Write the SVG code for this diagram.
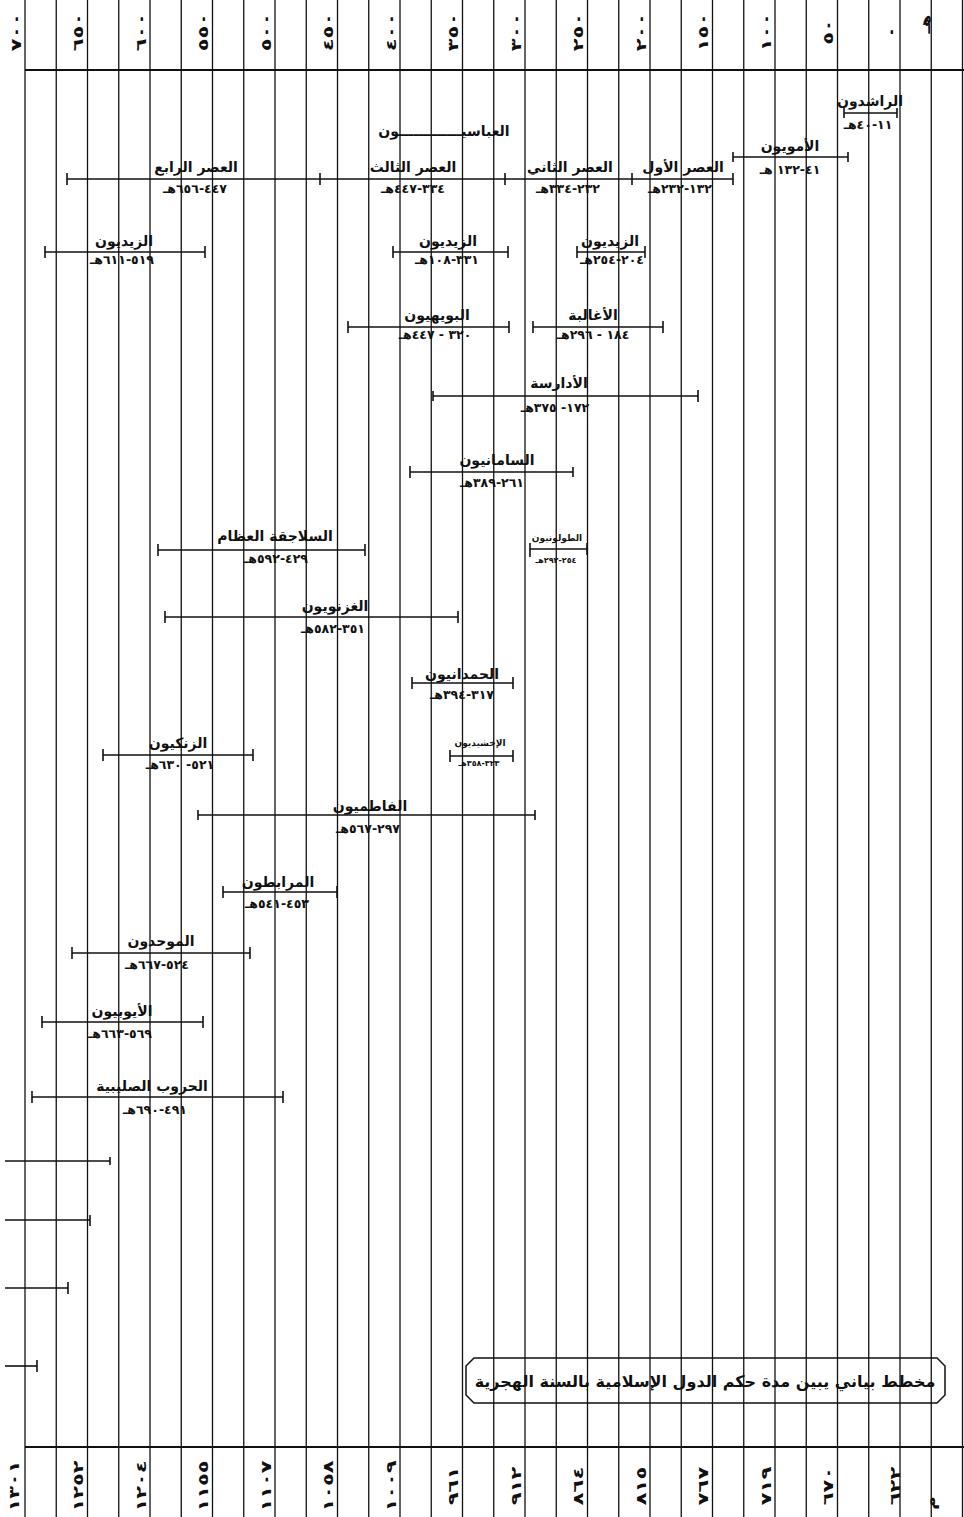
<svg xmlns="http://www.w3.org/2000/svg" width="964" height="1517" viewBox="0 0 964 1517">
<style>
.bg{fill:#fff}
.grid line{stroke:#111;stroke-width:1.3}
.axis{stroke:#111;stroke-width:2}
.bar line{stroke:#111;stroke-width:1.6;fill:none}
text{font-family:"DejaVu Sans",sans-serif;font-weight:bold;fill:#111;text-anchor:middle;direction:rtl}
.nm{font-size:14px}
.dt{font-size:12.5px}
.snm{font-size:9px}
.sdt{font-size:8px}
.ax{font-size:14px;letter-spacing:1.5px;direction:ltr}
.ttl{font-size:16px}
.box{fill:none;stroke:#111;stroke-width:1.5}
</style>
<rect class="bg" x="0" y="0" width="964" height="1517"/>
<g id="grid" class="grid">
<line x1="25" y1="0" x2="25" y2="1517"/><line x1="56.25" y1="0" x2="56.25" y2="1517"/><line x1="87.5" y1="0" x2="87.5" y2="1517"/><line x1="118.75" y1="0" x2="118.75" y2="1517"/><line x1="150" y1="0" x2="150" y2="1517"/><line x1="181.25" y1="0" x2="181.25" y2="1517"/><line x1="212.5" y1="0" x2="212.5" y2="1517"/><line x1="243.75" y1="0" x2="243.75" y2="1517"/><line x1="275" y1="0" x2="275" y2="1517"/><line x1="306.25" y1="0" x2="306.25" y2="1517"/><line x1="337.5" y1="0" x2="337.5" y2="1517"/><line x1="368.75" y1="0" x2="368.75" y2="1517"/><line x1="400" y1="0" x2="400" y2="1517"/><line x1="431.25" y1="0" x2="431.25" y2="1517"/><line x1="462.5" y1="0" x2="462.5" y2="1517"/><line x1="493.75" y1="0" x2="493.75" y2="1517"/><line x1="525" y1="0" x2="525" y2="1517"/><line x1="556.25" y1="0" x2="556.25" y2="1517"/><line x1="587.5" y1="0" x2="587.5" y2="1517"/><line x1="618.75" y1="0" x2="618.75" y2="1517"/><line x1="650" y1="0" x2="650" y2="1517"/><line x1="681.25" y1="0" x2="681.25" y2="1517"/><line x1="712.5" y1="0" x2="712.5" y2="1517"/><line x1="743.75" y1="0" x2="743.75" y2="1517"/><line x1="775" y1="0" x2="775" y2="1517"/><line x1="806.25" y1="0" x2="806.25" y2="1517"/><line x1="837.5" y1="0" x2="837.5" y2="1517"/><line x1="868.75" y1="0" x2="868.75" y2="1517"/><line x1="900" y1="0" x2="900" y2="1517"/><line x1="931.25" y1="0" x2="931.25" y2="1517"/><line x1="962.5" y1="0" x2="962.5" y2="1517"/>
</g>
<g id="axis-top">
<line class="axis" x1="25" y1="70" x2="964" y2="70"/>
<text class="ax" transform="translate(21,32) rotate(-90) scale(1.5,1)">٧٠٠</text>
<text class="ax" transform="translate(83,32) rotate(-90) scale(1.5,1)">٦٥٠</text>
<text class="ax" transform="translate(146,32) rotate(-90) scale(1.5,1)">٦٠٠</text>
<text class="ax" transform="translate(208,32) rotate(-90) scale(1.5,1)">٥٥٠</text>
<text class="ax" transform="translate(271,32) rotate(-90) scale(1.5,1)">٥٠٠</text>
<text class="ax" transform="translate(333,32) rotate(-90) scale(1.5,1)">٤٥٠</text>
<text class="ax" transform="translate(396,32) rotate(-90) scale(1.5,1)">٤٠٠</text>
<text class="ax" transform="translate(458,32) rotate(-90) scale(1.5,1)">٣٥٠</text>
<text class="ax" transform="translate(521,32) rotate(-90) scale(1.5,1)">٣٠٠</text>
<text class="ax" transform="translate(583,32) rotate(-90) scale(1.5,1)">٢٥٠</text>
<text class="ax" transform="translate(646,32) rotate(-90) scale(1.5,1)">٢٠٠</text>
<text class="ax" transform="translate(708,32) rotate(-90) scale(1.5,1)">١٥٠</text>
<text class="ax" transform="translate(771,32) rotate(-90) scale(1.5,1)">١٠٠</text>
<text class="ax" transform="translate(833,32) rotate(-90) scale(1.5,1)">٥٠</text>
<text class="ax" transform="translate(896,32) rotate(-90) scale(1.5,1)">٠</text>
<text class="ax" transform="translate(930,24) rotate(-90) scale(1.3,1)">هـ</text>
</g>
<g id="axis-bottom">
<line class="axis" x1="25" y1="1447" x2="964" y2="1447"/>
<text class="ax" transform="translate(19,1486) rotate(-90) scale(1.5,1)">١٣٠١</text>
<text class="ax" transform="translate(83,1486) rotate(-90) scale(1.5,1)">١٢٥٢</text>
<text class="ax" transform="translate(146,1486) rotate(-90) scale(1.5,1)">١٢٠٤</text>
<text class="ax" transform="translate(208,1486) rotate(-90) scale(1.5,1)">١١٥٥</text>
<text class="ax" transform="translate(271,1486) rotate(-90) scale(1.5,1)">١١٠٧</text>
<text class="ax" transform="translate(333,1486) rotate(-90) scale(1.5,1)">١٠٥٨</text>
<text class="ax" transform="translate(396,1486) rotate(-90) scale(1.5,1)">١٠٠٩</text>
<text class="ax" transform="translate(458,1486) rotate(-90) scale(1.5,1)">٩٦١</text>
<text class="ax" transform="translate(521,1486) rotate(-90) scale(1.5,1)">٩١٢</text>
<text class="ax" transform="translate(583,1486) rotate(-90) scale(1.5,1)">٨٦٤</text>
<text class="ax" transform="translate(646,1486) rotate(-90) scale(1.5,1)">٨١٥</text>
<text class="ax" transform="translate(708,1486) rotate(-90) scale(1.5,1)">٧٦٧</text>
<text class="ax" transform="translate(771,1486) rotate(-90) scale(1.5,1)">٧١٩</text>
<text class="ax" transform="translate(833,1486) rotate(-90) scale(1.5,1)">٦٧٠</text>
<text class="ax" transform="translate(900,1486) rotate(-90) scale(1.5,1)">٦٢٢</text>
<text class="ax" transform="translate(935,1503) rotate(-90) scale(1.3,1)">م</text>
</g>
<g id="connectors"></g>
<g id="rashidun" class="bar"><line x1="844" y1="113" x2="897" y2="113"/><line x1="844" y1="108" x2="844" y2="118"/><line x1="897" y1="108" x2="897" y2="118"/><text class="nm" x="870" y="106">الراشدون</text><text class="dt" x="868" y="129">١١-٤٠هـ</text></g>
<g id="umayyad" class="bar"><line x1="733" y1="157" x2="848" y2="157"/><line x1="733" y1="152" x2="733" y2="162"/><line x1="848" y1="152" x2="848" y2="162"/><text class="nm" x="790" y="151">الأمويون</text><text class="dt" x="790" y="174">٤١-١٣٢ هـ</text></g>
<g id="abbasid" class="bar"><line x1="67" y1="179" x2="733" y2="179"/><line x1="67" y1="173" x2="67" y2="185"/><line x1="320" y1="173" x2="320" y2="185"/><line x1="505" y1="173" x2="505" y2="185"/><line x1="632" y1="173" x2="632" y2="185"/><line x1="733" y1="173" x2="733" y2="185"/><text class="nm" x="444" y="136">العباسيـــــــــــــون</text></g>
<g id="abbasid-1" class="bar"><text class="nm" x="683" y="172">العصر  الأول</text><text class="dt" x="680" y="193">١٣٢-٢٣٢هـ</text></g>
<g id="abbasid-2" class="bar"><text class="nm" x="570" y="172">العصر الثاني</text><text class="dt" x="568" y="193">٢٣٢-٣٣٤هـ</text></g>
<g id="abbasid-3" class="bar"><text class="nm" x="413" y="172">العصر الثالث</text><text class="dt" x="413" y="193">٣٣٤-٤٤٧هـ</text></g>
<g id="abbasid-4" class="bar"><text class="nm" x="196" y="172">العصر الرابع</text><text class="dt" x="195" y="193">٤٤٧-٦٥٦هـ</text></g>
<g id="zaydi-1" class="bar"><line x1="577" y1="252" x2="645" y2="252"/><line x1="577" y1="246" x2="577" y2="258"/><line x1="645" y1="246" x2="645" y2="258"/><text class="nm" x="610" y="246">الزيديون</text><text class="dt" x="612" y="264">٢٠٤-٢٥٤هـ</text></g>
<g id="zaydi-2" class="bar"><line x1="393" y1="252" x2="508" y2="252"/><line x1="393" y1="246" x2="393" y2="258"/><line x1="508" y1="246" x2="508" y2="258"/><text class="nm" x="448" y="246">الزيديون</text><text class="dt" x="447" y="264">٣٣١-١٠٨هـ</text></g>
<g id="zaydi-3" class="bar"><line x1="45" y1="252" x2="205" y2="252"/><line x1="45" y1="246" x2="45" y2="258"/><line x1="205" y1="246" x2="205" y2="258"/><text class="nm" x="124" y="246">الزيديون</text><text class="dt" x="122" y="264">٥١٩-٦١١هـ</text></g>
<g id="buyids" class="bar"><line x1="348" y1="327" x2="509" y2="327"/><line x1="348" y1="321" x2="348" y2="333"/><line x1="509" y1="321" x2="509" y2="333"/><text class="nm" x="437" y="320">البويهيون</text><text class="dt" x="435" y="339">٣٢٠ - ٤٤٧هـ</text></g>
<g id="aghlabids" class="bar"><line x1="533" y1="327" x2="663" y2="327"/><line x1="533" y1="321" x2="533" y2="333"/><line x1="663" y1="321" x2="663" y2="333"/><text class="nm" x="593" y="320">الأغالبة</text><text class="dt" x="593" y="339">١٨٤ - ٢٩٦هـ</text></g>
<g id="idrisids" class="bar"><line x1="433" y1="396" x2="698" y2="396"/><line x1="433" y1="391" x2="433" y2="401"/><line x1="698" y1="390" x2="698" y2="402"/><text class="nm" x="559" y="388">الأدارسة</text><text class="dt" x="555" y="412">١٧٢- ٣٧٥هـ</text></g>
<g id="samanids" class="bar"><line x1="410" y1="472" x2="573" y2="472"/><line x1="410" y1="466" x2="410" y2="478"/><line x1="573" y1="467" x2="573" y2="477"/><text class="nm" x="497" y="465">السامانيون</text><text class="dt" x="492" y="487">٢٦١-٣٨٩هـ</text></g>
<g id="seljuks" class="bar"><line x1="158" y1="550" x2="365" y2="550"/><line x1="158" y1="544" x2="158" y2="556"/><line x1="365" y1="544" x2="365" y2="556"/><text class="nm" x="275" y="541">السلاجقة العظام</text><text class="dt" x="276" y="563">٤٢٩-٥٩٢هـ</text></g>
<g id="tulunids" class="bar"><line x1="530" y1="549" x2="587" y2="549"/><line x1="530" y1="543" x2="530" y2="557"/><line x1="587" y1="543" x2="587" y2="555"/><text class="snm" x="557" y="541">الطولونيون</text><text class="sdt" x="556" y="563">٢٥٤-٢٩٢هـ</text></g>
<g id="ghaznavids" class="bar"><line x1="165" y1="617" x2="458" y2="617"/><line x1="165" y1="611" x2="165" y2="623"/><line x1="458" y1="611" x2="458" y2="623"/><text class="nm" x="335" y="611">الغزنويون</text><text class="dt" x="333" y="633">٣٥١-٥٨٢هـ</text></g>
<g id="hamdanids" class="bar"><line x1="412" y1="683" x2="513" y2="683"/><line x1="412" y1="677" x2="412" y2="689"/><line x1="513" y1="677" x2="513" y2="689"/><text class="nm" x="462" y="679">الحمدانيون</text><text class="dt" x="462" y="699">٣١٧-٣٩٤هـ</text></g>
<g id="zengids" class="bar"><line x1="103" y1="755" x2="253" y2="755"/><line x1="103" y1="749" x2="103" y2="761"/><line x1="253" y1="749" x2="253" y2="761"/><text class="nm" x="178" y="748">الزنكيون</text><text class="dt" x="180" y="769">٥٢١- ٦٣٠هـ</text></g>
<g id="ikhshidids" class="bar"><line x1="450" y1="756" x2="513" y2="756"/><line x1="450" y1="750" x2="450" y2="762"/><line x1="513" y1="750" x2="513" y2="762"/><text class="snm" x="480" y="746">الإخشيديون</text><text class="sdt" x="479" y="766">٣٢٣-٣٥٨هـ</text></g>
<g id="fatimids" class="bar"><line x1="198" y1="815" x2="535" y2="815"/><line x1="198" y1="810" x2="198" y2="820"/><line x1="535" y1="810" x2="535" y2="820"/><text class="nm" x="370" y="811">الفاطميون</text><text class="dt" x="368" y="833">٢٩٧-٥٦٧هـ</text></g>
<g id="almoravids" class="bar"><line x1="223" y1="892" x2="337" y2="892"/><line x1="223" y1="886" x2="223" y2="898"/><line x1="337" y1="886" x2="337" y2="898"/><text class="nm" x="278" y="887">المرابطون</text><text class="dt" x="277" y="908">٤٥٣-٥٤١هـ</text></g>
<g id="almohads" class="bar"><line x1="72" y1="953" x2="250" y2="953"/><line x1="72" y1="947" x2="72" y2="959"/><line x1="250" y1="947" x2="250" y2="959"/><text class="nm" x="161" y="946">الموحدون</text><text class="dt" x="157" y="969">٥٢٤-٦٦٧هـ</text></g>
<g id="ayyubids" class="bar"><line x1="42" y1="1022" x2="203" y2="1022"/><line x1="42" y1="1016" x2="42" y2="1028"/><line x1="203" y1="1016" x2="203" y2="1028"/><text class="nm" x="122" y="1016">الأيوبيون</text><text class="dt" x="120" y="1038">٥٦٩-٦٦٣هـ</text></g>
<g id="crusades" class="bar"><line x1="32" y1="1097" x2="283" y2="1097"/><line x1="32" y1="1091" x2="32" y2="1103"/><line x1="283" y1="1091" x2="283" y2="1103"/><text class="nm" x="152" y="1091">الحروب الصليبية</text><text class="dt" x="155" y="1114">٤٩١-٦٩٠هـ</text></g>
<g id="stub-1" class="bar"><line x1="5" y1="1161" x2="110" y2="1161"/><line x1="110" y1="1157" x2="110" y2="1165"/></g>
<g id="stub-2" class="bar"><line x1="5" y1="1220" x2="90" y2="1220"/><line x1="90" y1="1215" x2="90" y2="1226"/></g>
<g id="stub-3" class="bar"><line x1="5" y1="1288" x2="68" y2="1288"/><line x1="68" y1="1282" x2="68" y2="1294"/></g>
<g id="stub-4" class="bar"><line x1="5" y1="1366" x2="37" y2="1366"/><line x1="37" y1="1360" x2="37" y2="1372"/></g>
<g id="title"><path class="box" d="M474 1358 H937 L945 1366 V1395 L937 1403 H474 L466 1395 V1366 Z"/><text class="ttl" x="705" y="1387">مخطط بياني يبين مدة حكم الدول الإسلامية بالسنة الهجرية</text></g>
</svg>
